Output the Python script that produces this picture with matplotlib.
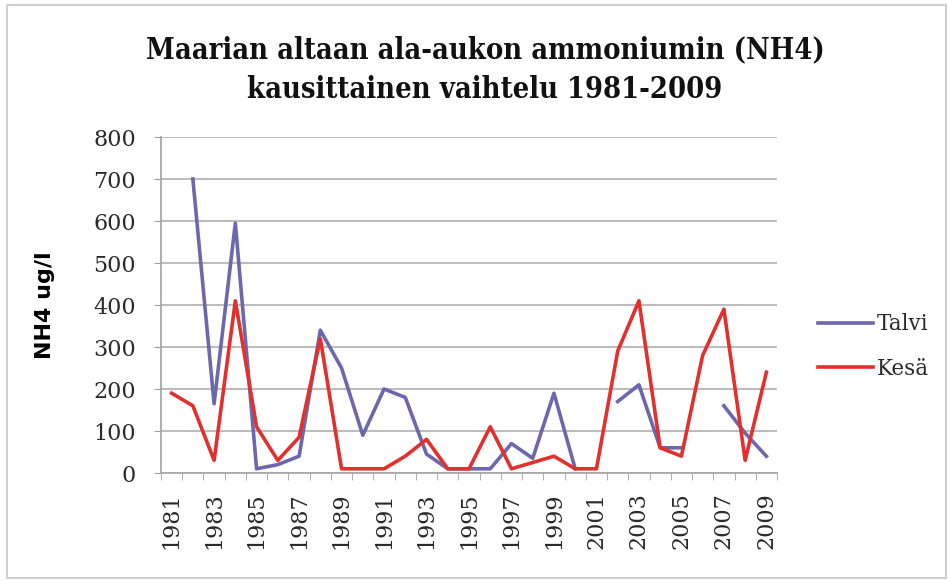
import numpy as np
import matplotlib
matplotlib.use("Agg")
import matplotlib.pyplot as plt
from matplotlib.patches import Rectangle

years = list(range(1981, 2010))
talvi = [np.nan, 700, 165, 595, 10, 20, 40, 340, 250, 90,
         200, 180, 45, 10, 10, 10, 70, 35, 190, 10,
         np.nan, 170, 210, 60, 60, np.nan, 160, 95, 40]
kesa = [190, 160, 30, 410, 110, 30, 85, 320, 10, 10,
        10, 40, 80, 10, 10, 110, 10, 25, 40, 10,
        10, 290, 410, 60, 40, 280, 390, 30, 240]
yticks = [0, 100, 200, 300, 400, 500, 600, 700, 800]
title = "Maarian altaan ala-aukon ammoniumin (NH4)\nkausittainen vaihtelu 1981-2009"
ylabel = "NH4 ug/l"
series_names = ["Talvi", "Kesä"]

fig = plt.figure(figsize=(9.48, 5.81), dpi=100)
fig.patches.append(Rectangle((7/948, 3/581), 939/948, 573/581, transform=fig.transFigure,
                             fill=False, edgecolor="#cfcfcf", linewidth=1.5))
ax = fig.add_axes([161/948, 1 - 473/581, 616/948, 336/581])

x = np.arange(len(years)) + 0.5
ax.plot(x, talvi, color="#6b68ae", linewidth=2.6, label=series_names[0])
ax.plot(x, kesa, color="#e2302f", linewidth=2.6, label=series_names[1])

ax.set_xlim(0, len(years))
ax.set_ylim(0, 800)
ax.set_yticks(yticks)
ax.set_yticklabels([str(v) for v in yticks], family="DejaVu Serif", fontsize=16, color="#2a2a2a")
ax.set_xticks(x[::2])
ax.set_xticklabels([str(y) for y in years[::2]], rotation=90, family="DejaVu Serif",
                   fontsize=16, color="#2a2a2a")
ax.set_xticks(np.arange(len(years) + 1), minor=True)
ax.tick_params(axis="x", which="major", length=0, pad=14)
ax.tick_params(axis="x", which="minor", length=5, color="#a0a0a0", direction="out")
ax.tick_params(axis="y", length=5, color="#a0a0a0", pad=13)

ax.grid(axis="y", color="#bdbdbd", linewidth=1.5)
ax.set_axisbelow(True)
for s in ["top", "right"]:
    ax.spines[s].set_visible(False)
ax.spines["left"].set_color("#a8a8a8")
ax.spines["bottom"].set_color("#a8a8a8")
ax.spines["left"].set_linewidth(1.3)
ax.spines["bottom"].set_linewidth(1.3)

ax.set_ylabel(ylabel, family="DejaVu Sans", fontweight="bold", fontsize=16)
ax.yaxis.set_label_coords(-0.172, 0.5)

fig.text(485/948, 1 - 69.5/581, title, ha="center", va="center", family="DejaVu Serif",
         fontweight="bold", fontsize=20.75, stretch="condensed", linespacing=1.45,
         color="#111111")

leg = ax.legend(loc="center left", bbox_to_anchor=(1.066, 0.376), frameon=False,
                borderaxespad=0, borderpad=0,
                prop={"family": "DejaVu Serif", "size": 15.5}, handlelength=2.55,
                handletextpad=0.2, labelspacing=1.05)
for t in leg.get_texts():
    t.set_color("#2a2a2a")

fig.savefig("out.png", dpi=100)
